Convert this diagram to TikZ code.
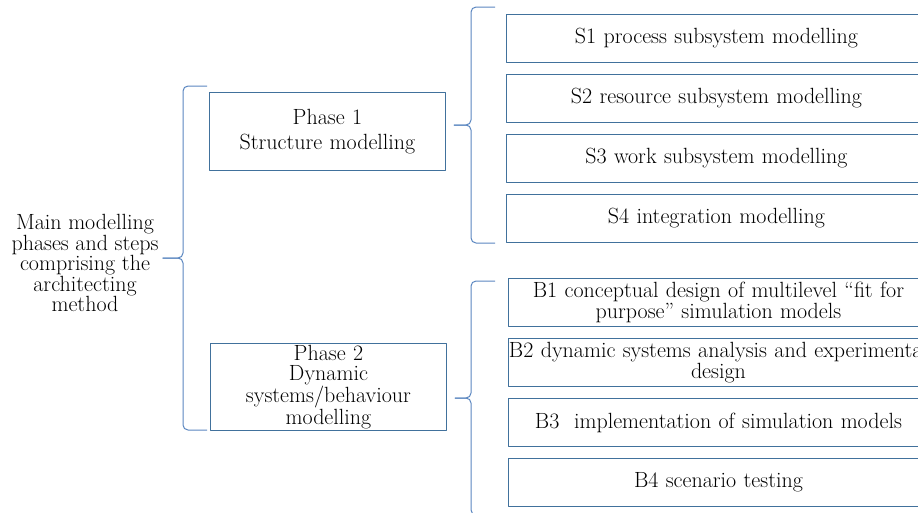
\documentclass[tikz,border=0pt]{standalone}
\usetikzlibrary{positioning,calc}
\definecolor{boxblue}{HTML}{41719C}
\definecolor{braceblue}{HTML}{5A86C0}
\tikzset{
  stepbox/.style={draw=boxblue,line width=0.9pt,anchor=north west,minimum width=420,minimum height=48,text width=410,align=center,inner xsep=5,inner ysep=0},
  phasebox/.style={draw=boxblue,line width=0.9pt,anchor=north west,minimum width=236,text width=226,align=center,inner xsep=5,inner ysep=0},
  grp/.style={draw=braceblue,line width=1pt,rounded corners=5}
}
% brace: #1 cusp, #2 half height, #3 stem end
\newcommand{\grp}[3]{%
  \draw[grp] ($(#1)+(24,-#2)$) -- ($(#1)+(0,-#2)$) -- (#1) -- (#3);
  \draw[grp] ($(#1)+(24,#2)$) -- ($(#1)+(0,#2)$) -- (#1) -- (#3);}
\begin{document}
\begin{tikzpicture}[x=1pt,y=-1pt,font=\fontsize{22}{20.5}\selectfont,line join=round]
\useasboundingbox (0,0) rectangle (918,512);
\node[align=center,inner sep=0] (main) at (85,263) {Main modelling\\phases and steps\\comprising the\\architecting\\method};
\node[phasebox,minimum height=78,font=\fontsize{22}{25}\selectfont] (ph1) at (209,92) {Phase 1\\Structure modelling};
\node[phasebox,minimum height=87,font=\fontsize{22}{20.5}\selectfont] (ph2) at (210,343) {Phase 2\\Dynamic\\systems/behaviour\\modelling};
\foreach \t [count=\i] in {S1 process subsystem modelling,S2 resource subsystem modelling,S3 work subsystem modelling,S4 integration modelling}
  \node[stepbox] (s\i) at (506,{14+60*(\i-1)}) {\t};
\foreach \t [count=\i] in {{B1 conceptual design of multilevel “fit for\\purpose” simulation models},{\makebox[410pt]{B2 dynamic systems analysis and experimental}\\design},{B3\ \ implementation of simulation models},{B4 scenario testing}}
  \node[stepbox,font=\fontsize{22}{21.5}\selectfont] (b\i) at (508,{278+60*(\i-1)}) {\t};
% braces
\coordinate (c0) at (183,258);
\coordinate (c1) at (471,125);
\coordinate (c2) at (471,398);
\grp{c0}{172}{$(c0 -| main.east)+(4,0)$}
\grp{c1}{118}{$(c1 -| ph1.east)+(8,0)$}
\grp{c2}{117}{$(c2 -| ph2.east)+(8,0)$}
\end{tikzpicture}
\end{document}
